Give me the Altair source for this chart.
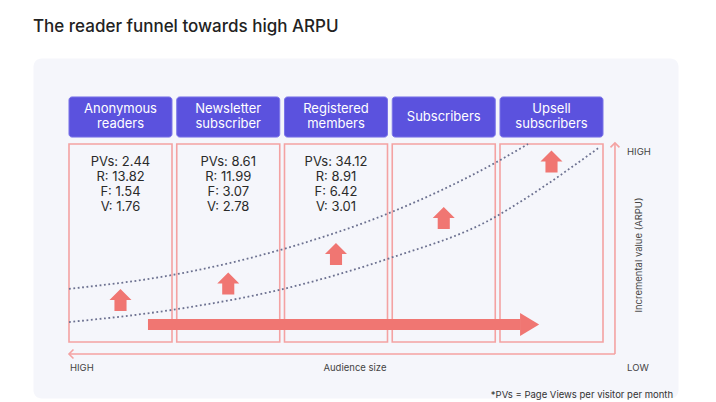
import altair as alt
import pandas as pd

# ---------------- data ----------------
stages = ["Anonymous readers", "Newsletter subscriber", "Registered members",
          "Subscribers", "Upsell subscribers"]
header_text = ["Anonymous\nreaders", "Newsletter\nsubscriber", "Registered\nmembers",
               "Subscribers", "Upsell\nsubscribers"]
metric_names = ["PVs", "R", "F", "V"]
pvs = [2.44, 8.61, 34.12]
recency = [13.82, 11.99, 8.91]
frequency = [1.54, 3.07, 6.42]
volume = [1.76, 2.78, 3.01]
# incremental value level of each stage's arrow (0 = low, 1 = high)
arrow_level = [0.257, 0.336, 0.476, 0.648, 0.917]
# dotted value curves (x in stage units, y in value level)
upper_x = [0.0, 0.956, 2.023, 2.951, 3.954, 4.260]
upper_y = [0.310, 0.376, 0.505, 0.667, 0.910, 1.000]
lower_x = [0.0, 0.956, 2.023, 2.951, 3.954, 4.186, 4.928]
lower_y = [0.152, 0.210, 0.314, 0.452, 0.652, 0.724, 0.986]
title = "The reader funnel towards high ARPU"
x_axis_title = "Audience size"
y_axis_title = "Incremental value (ARPU)"
footnote = "*PVs = Page Views per visitor per month"

# ---------------- layout / style ----------------
BOX_W = 0.956
PURPLE = "#5b52de"
PINK = "#f4a2a2"
SALMON = "#f07672"
DOT = "#6c7190"
TXT = "#2a2a2a"
FONT = "Inter"
LINE_STEP = 15 / 210

X = alt.Scale(domain=[-0.334, 5.652], nice=False, zero=False)
Y = alt.Scale(domain=[-0.2095, 1.4095], nice=False, zero=False)


def qx(f):
    return alt.X(f, type="quantitative", scale=X, axis=None)


def qy(f):
    return alt.Y(f, type="quantitative", scale=Y, axis=None)


n = len(stages)
stage_df = pd.DataFrame({
    "stage": stages,
    "label": header_text,
    "x0": [i for i in range(n)],
    "x1": [i + BOX_W for i in range(n)],
    "xc": [i + BOX_W / 2 for i in range(n)],
    "level": arrow_level,
})
stage_df["h0"] = 1.033
stage_df["h1"] = 1.224
stage_df["hc"] = [1.1286 + (t.count("\n")) * LINE_STEP / 2 for t in header_text]
stage_df["b0"] = 0.057
stage_df["b1"] = 1.0

headers = alt.Chart(stage_df).mark_rect(
    fill=PURPLE, stroke="#7b74e8", strokeWidth=1, cornerRadius=3
).encode(x=qx("x0"), x2="x1", y=qy("h0"), y2="h1")

header_labels = alt.Chart(stage_df).mark_text(
    color="white", fontSize=13, font=FONT, lineBreak="\n", lineHeight=15,
    baseline="middle", align="center"
).encode(x=qx("xc"), y=qy("hc"), text="label")

boxes = alt.Chart(stage_df).mark_rect(
    fillOpacity=0, stroke=PINK, strokeWidth=1.6
).encode(x=qx("x0"), x2="x1", y=qy("b0"), y2="b1")

curve_df = pd.concat([
    pd.DataFrame({"curve": "upper", "x": upper_x, "y": upper_y, "o": range(len(upper_x))}),
    pd.DataFrame({"curve": "lower", "x": lower_x, "y": lower_y, "o": range(len(lower_x))}),
])
curves = alt.Chart(curve_df).mark_line(
    color=DOT, strokeWidth=1.8, strokeDash=[1.8, 2.6], interpolate="monotone"
).encode(x=qx("x"), y=qy("y"), detail="curve", order="o")

rows = []
for i, vals in enumerate(zip(pvs, recency, frequency, volume)):
    for j, (name, v) in enumerate(zip(metric_names, vals)):
        rows.append({"xc": i + BOX_W / 2, "y": 0.914 - j * LINE_STEP,
                     "t": f"{name}: {v:.2f}"})
metric_text = alt.Chart(pd.DataFrame(rows)).mark_text(
    color=TXT, fontSize=13, font=FONT, baseline="middle", align="center"
).encode(x=qx("xc"), y=qy("y"), text="t")

up_arrows = alt.Chart(stage_df).mark_point(
    shape="M0,-1L1,0L0.55,0L0.55,1L-0.55,1L-0.55,0L-1,0Z",
    filled=True, fill=SALMON, strokeWidth=0, opacity=1, size=484
).encode(x=qx("xc"), y=qy("level"))

flow_df = pd.DataFrame({"x0": [0.733], "x1": [4.19], "y0": [0.114], "y1": [0.167],
                        "hx": [4.275], "hy": [0.1405]})
flow_bar = alt.Chart(flow_df).mark_rect(fill=SALMON).encode(
    x=qx("x0"), x2="x1", y=qy("y0"), y2="y1")
flow_head = alt.Chart(flow_df).mark_point(
    shape="M-0.83,-1L0.83,0L-0.83,1Z", filled=True, fill=SALMON,
    strokeWidth=0, opacity=1, size=529
).encode(x=qx("hx"), y=qy("hy"))

axes_df = pd.DataFrame({"x0": [0.0, 5.067], "x1": [5.067, 5.067],
                        "y0": [0.0, 0.0], "y1": [0.0, 1.005]})
axis_lines = alt.Chart(axes_df).mark_rule(color=PINK, strokeWidth=1.6).encode(
    x=qx("x0"), x2="x1", y=qy("y0"), y2="y1")

chev_left = alt.Chart(pd.DataFrame({"x": [0.0], "y": [0.0]})).mark_point(
    shape="M1,-1L0,0L1,1", filled=False, stroke=PINK, strokeWidth=1.6,
    opacity=1, size=80
).encode(x=qx("x"), y=qy("y"))
chev_top = alt.Chart(pd.DataFrame({"x": [5.067], "y": [1.005]})).mark_point(
    shape="M-1,1L0,0L1,1", filled=False, stroke=PINK, strokeWidth=1.6,
    opacity=1, size=80
).encode(x=qx("x"), y=qy("y"))

lab_df = pd.DataFrame({
    "t": ["HIGH", x_axis_title, "LOW", "HIGH"],
    "x": [0.009, 2.654, 5.179, 5.179],
    "y": [-0.067, -0.067, -0.067, 0.962],
    "a": ["left", "center", "left", "left"],
})
labels_left = alt.Chart(lab_df[lab_df.a == "left"]).mark_text(
    color="#444444", fontSize=9.5, font=FONT, align="left", baseline="middle"
).encode(x=qx("x"), y=qy("y"), text="t")
labels_center = alt.Chart(lab_df[lab_df.a == "center"]).mark_text(
    color="#444444", fontSize=9.5, font=FONT, align="center", baseline="middle"
).encode(x=qx("x"), y=qy("y"), text="t")

ylab = alt.Chart(pd.DataFrame({"t": [y_axis_title], "x": [5.29], "y": [0.471]})).mark_text(
    color="#444444", fontSize=9.5, font=FONT, angle=270, align="center", baseline="middle"
).encode(x=qx("x"), y=qy("y"), text="t")

foot = alt.Chart(pd.DataFrame({"t": [footnote], "x": [5.606], "y": [-0.193]})).mark_text(
    color="#333333", fontSize=9.5, font=FONT, align="right", baseline="middle"
).encode(x=qx("x"), y=qy("y"), text="t")

title_mark = alt.Chart(pd.DataFrame({"t": [title], "x": [-0.334], "y": [1.557]})).mark_text(
    color="#222222", fontSize=17, font=FONT, fontWeight=500, align="left", baseline="middle"
).encode(x=qx("x"), y=qy("y"), text="t")

chart = alt.layer(
    boxes, headers, header_labels, curves, up_arrows, flow_bar, flow_head,
    axis_lines, chev_left, chev_top, metric_text, labels_left, labels_center,
    ylab, foot, title_mark
).properties(
    width=645, height=340,
    padding={"left": 25, "top": 50, "right": 30, "bottom": 4},
    autosize="none",
).configure(background="white").configure_view(
    fill="#f5f6fb", stroke="transparent", cornerRadius=8
)

chart.save("out.html", embed_options={"renderer": "svg", "actions": False})
